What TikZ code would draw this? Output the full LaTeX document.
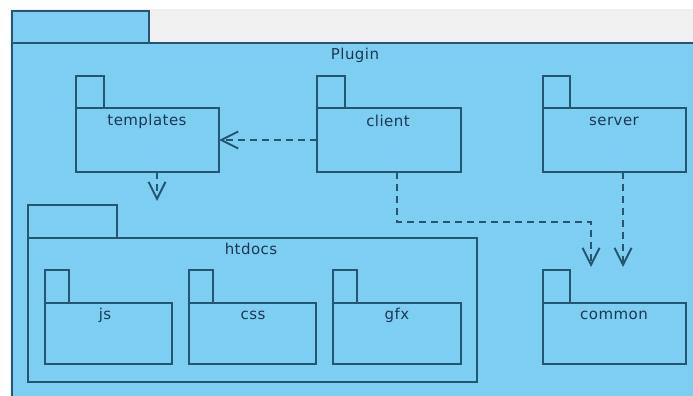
\documentclass[tikz,border=0pt]{standalone}
\usepackage{fontspec}
\setmainfont{DejaVu Sans}[LetterSpace=3]
\usetikzlibrary{arrows.meta}
\definecolor{pkgfill}{HTML}{7ECEF2}
\definecolor{pkgline}{HTML}{235674}
\definecolor{pkgtext}{HTML}{1A3856}
\definecolor{canvas}{HTML}{F0F0F0}
\tikzset{
  pkg/.style={draw=pkgline, fill=pkgfill, line width=2pt},
  lbl/.style={text=pkgtext, font=\fontsize{15}{17}\selectfont, inner sep=0pt},
  dep/.style={draw=pkgline, line width=2pt, dash pattern=on 7pt off 5pt,
    -{Straight Barb[length=17pt,width=17pt,line width=2pt]}},
}
% a package symbol: tab (x0..xt, y0..yt) above body (x0..x1, yt..y1)
\newcommand\pkgsym[6]{%
  \draw[pkg] (#1,#3) rectangle (#2,#4);
  \draw[pkg] (#1,#4) rectangle (#5,#6);
}
\begin{document}
\begin{tikzpicture}[x=1pt,y=-1pt]
\useasboundingbox (0,0) rectangle (693,396);
\clip (0,0) rectangle (693,396);
\fill[white] (0,0) rectangle (693,396);
\fill[canvas] (10,9) rectangle (700,400);

% outer package Plugin
\pkgsym{12}{149}{11}{43}{705}{410}
\node[lbl] (plugin) at (355,55) {Plugin};

% templates, client, server
\pkgsym{76}{104}{76}{108}{219}{172}
\node[lbl] (templates) at (147,121) {templates};
\coordinate (templatesE) at (219,140);
\coordinate (templatesS) at (157,172);

\pkgsym{317}{345}{76}{108}{461}{172}
\node[lbl] (client) at (388,121) {client};
\coordinate (clientW) at (317,140);
\coordinate (clientS) at (397,172);

\pkgsym{543}{570}{76}{108}{686}{172}
\node[lbl] (server) at (614,121) {server};
\coordinate (serverS) at (623,172);

% htdocs with js, css, gfx
\pkgsym{28}{117}{205}{238}{477}{382}
\node[lbl] (htdocs) at (251,249) {htdocs};
\coordinate (htdocsN) at (157,201);

\pkgsym{45}{69}{270}{303}{172}{364}
\node[lbl] (js) at (105,315) {js};
\pkgsym{189}{213}{270}{303}{316}{364}
\node[lbl] (css) at (253,315) {css};
\pkgsym{333}{357}{270}{303}{461}{364}
\node[lbl] (gfx) at (397,315) {gfx};

% common
\pkgsym{543}{570}{270}{303}{686}{364}
\node[lbl] (common) at (614,315) {common};
\coordinate (commonA) at (591,267);
\coordinate (commonB) at (623,267);

% dependencies
\draw[dep] (clientW) -- (templatesE);
\draw[dep] (templatesS) -- (htdocsN);
\draw[dep] (clientS) |- (591,222) -- (commonA);
\draw[dep] (serverS) -- (commonB);
\end{tikzpicture}
\end{document}
